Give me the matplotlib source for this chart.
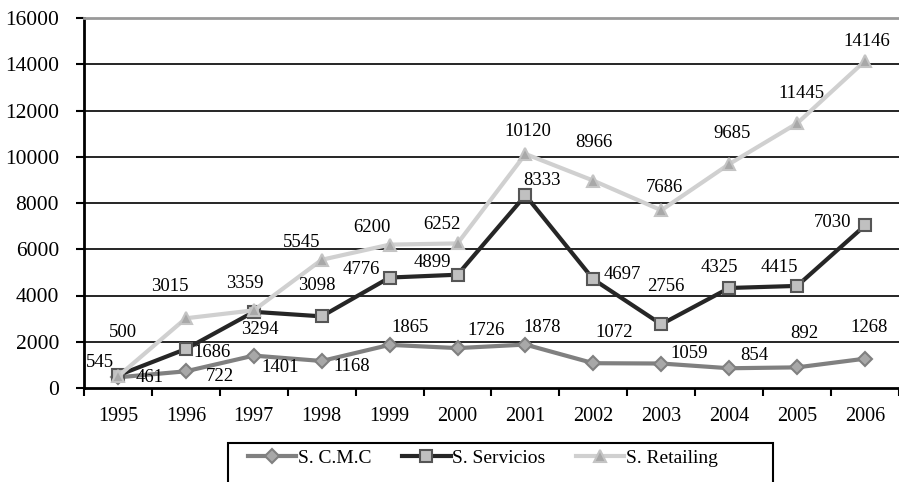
import matplotlib
matplotlib.use('agg')
import matplotlib.pyplot as plt
from matplotlib.patches import Rectangle
import numpy as np

plt.rcParams['font.family'] = ['Liberation Serif', 'DejaVu Serif']

years = ['1995', '1996', '1997', '1998', '1999', '2000',
         '2001', '2002', '2003', '2004', '2005', '2006']
cmc = [461, 722, 1401, 1168, 1865, 1726, 1878, 1072, 1059, 854, 892, 1268]
servicios = [545, 1686, 3294, 3098, 4776, 4899, 8333, 4697, 2756, 4325, 4415, 7030]
retailing = [500, 3015, 3359, 5545, 6200, 6252, 10120, 8966, 7686, 9685, 11445, 14146]
y_ticks = [0, 2000, 4000, 6000, 8000, 10000, 12000, 14000, 16000]

# label offsets in pixels (dx, dy up)
off_cmc = [(32, 0), (34, -5), (26, -12), (30, -6), (20, 17), (29, 18),
           (17, 17), (21, 31), (28, 10), (25, 13), (7, 34), (4, 31)]
off_serv = [(-18, 13), (26, -3), (6, -18), (-5, 31), (-28, 8), (-25, 12),
            (17, 15), (29, 5), (5, 38), (-10, 20), (-18, 18), (-33, 3)]
off_ret = [(5, 44), (-16, 32), (-9, 27), (-20, 17), (-18, 17), (-16, 19),
           (2, 22), (1, 38), (3, 23), (3, 31), (4, 30), (2, 19)]

fig = plt.figure(figsize=(8.99, 4.82), dpi=100)
ax = fig.add_axes([84 / 899, 1 - 388 / 482, 815 / 899, 370 / 482])

x = np.arange(len(years))
series = [
    ('S. C.M.C', cmc, off_cmc, dict(color='#808080', marker='D', markersize=7,
                                    markerfacecolor='#a8a8a8', markeredgecolor='#808080')),
    ('S. Servicios', servicios, off_serv, dict(color='#262626', marker='s', markersize=8.5,
                                               markerfacecolor='#c0c0c0', markeredgecolor='#555555')),
    ('S. Retailing', retailing, off_ret, dict(color='#d0d0d0', marker='^', markersize=8.5,
                                              markerfacecolor='#a8a8a8', markeredgecolor='#c4c4c4')),
]
for name, vals, offs, style in series:
    ax.plot(x, vals, label=name, linewidth=3, markeredgewidth=1.5, zorder=3, **style)
    for xi, v, (dx, dy) in zip(x, vals, offs):
        ax.annotate(str(v), (xi, v), xytext=(dx, dy), textcoords='offset pixels',
                    ha='center', va='center', fontsize=13.5, zorder=4)

ax.set_xlim(-0.5, 11.5)
ax.set_ylim(0, 16000)
ax.set_yticks(y_ticks)
ax.set_yticklabels([str(t) for t in y_ticks])
for t in y_ticks[1:-1]:
    ax.axhline(t, color='black', linewidth=1.2, zorder=1)

ax.set_xticks(x)
ax.set_xticklabels(years)
ax.set_xticks(np.arange(-0.5, 12, 1), minor=True)
ax.tick_params(axis='x', which='major', length=0, pad=14, labelsize=14.5)
ax.tick_params(axis='x', which='minor', length=6, width=1.5, direction='out')
ax.tick_params(axis='y', length=6, width=1.5, pad=12, labelsize=15.5)

ax.spines['right'].set_visible(False)
ax.spines['top'].set_color('#999999')
ax.spines['top'].set_linewidth(2)
ax.spines['left'].set_linewidth(2)
ax.spines['bottom'].set_linewidth(2)

fig.patches.append(Rectangle((228 / 899, -0.05), 545 / 899, 1 - 443 / 482 + 0.05,
                             transform=fig.transFigure, fill=False,
                             edgecolor='black', linewidth=1.5))
fig.legend(loc='center', bbox_to_anchor=(483 / 899, 1 - 458 / 482), ncol=3,
           frameon=False, fontsize=14, handlelength=2.5, handletextpad=0.1,
           columnspacing=1.55)

fig.savefig('out.png', dpi=100)
